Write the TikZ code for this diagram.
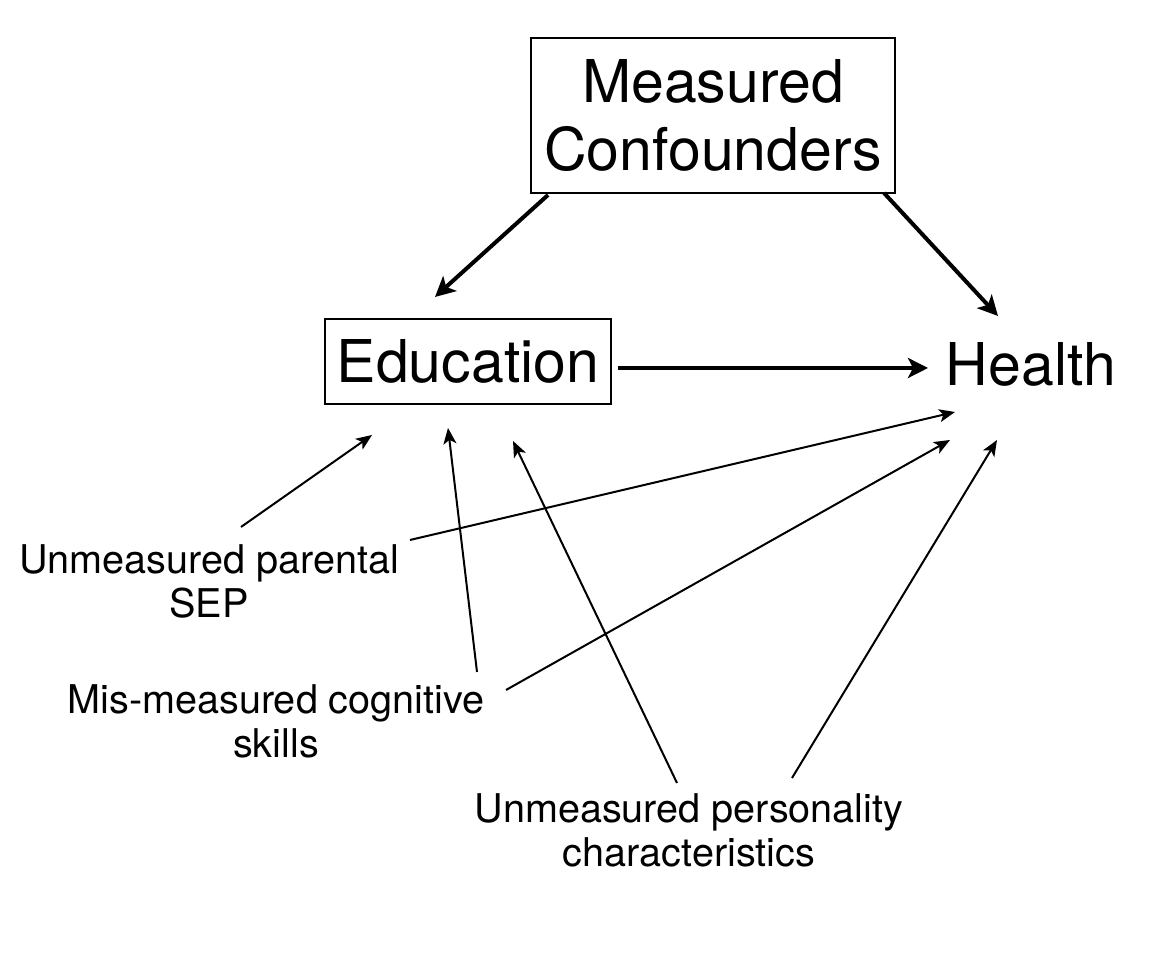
\documentclass[tikz,border=0pt]{standalone}
\usepackage{fontspec}
\setmainfont{TeX Gyre Heros}
\usetikzlibrary{arrows.meta,positioning}

\begin{document}
\begin{tikzpicture}[
  x=0.5pt, y=0.5pt,
  big/.style={font=\fontsize{29.5}{34}\selectfont, align=center, inner sep=0pt},
  box/.style={big, draw, line width=1pt},
  lbl/.style={font=\fontsize{19.8}{22}\selectfont, align=center, inner sep=0pt},
  causal/.style={->, line width=2pt, >={Stealth[length=10pt, width=10pt, inset=2.5pt]}},
  bias/.style={->, line width=1pt, >={Stealth[length=8pt, width=6.5pt, inset=2pt]}}]
\useasboundingbox (0,0) rectangle (1176,956);
\node[box, minimum width=182pt, minimum height=77.5pt] (conf) at (713,840.5) {Measured\\Confounders};
\node[box, minimum width=143pt, minimum height=42.5pt] (edu) at (468,594.5) {Education};
\node[big] (health) at (1031,592) {Health};
\node[lbl] (sep) at (209,374.5) {Unmeasured parental\\SEP};
\node[lbl] (cog) at (276,234.5) {Mis-measured cognitive\\skills};
\node[lbl] (pers) at (689,126) {Unmeasured personality\\characteristics};
% measured paths
\draw[causal] ([shift={(18,-1)}]conf.south west) -- ([shift={(-33,21)}]edu.north);
\draw[causal] ([shift={(-12,1)}]conf.south east) -- ([shift={(-33,48)}]health.center);
\draw[causal] ([shift={(6,-6.5)}]edu.east) -- ([shift={(-103,-4)}]health.center);
% unmeasured paths
\draw[bias] ([shift={(32,54.5)}]sep.center) -- ([shift={(-96,-73.5)}]edu.center);
\draw[bias] ([shift={(201,41.5)}]sep.center) -- ([shift={(-76,-48)}]health.center);
\draw[bias] ([shift={(201,49.5)}]cog.center) -- ([shift={(-20,-66.5)}]edu.center);
\draw[bias] ([shift={(230,31.5)}]cog.center) -- ([shift={(-81,-76)}]health.center);
\draw[bias] ([shift={(-12,47)}]pers.center) -- ([shift={(45,-79.5)}]edu.center);
\draw[bias] ([shift={(103,52)}]pers.center) -- ([shift={(-34,-76)}]health.center);
\end{tikzpicture}
\end{document}
